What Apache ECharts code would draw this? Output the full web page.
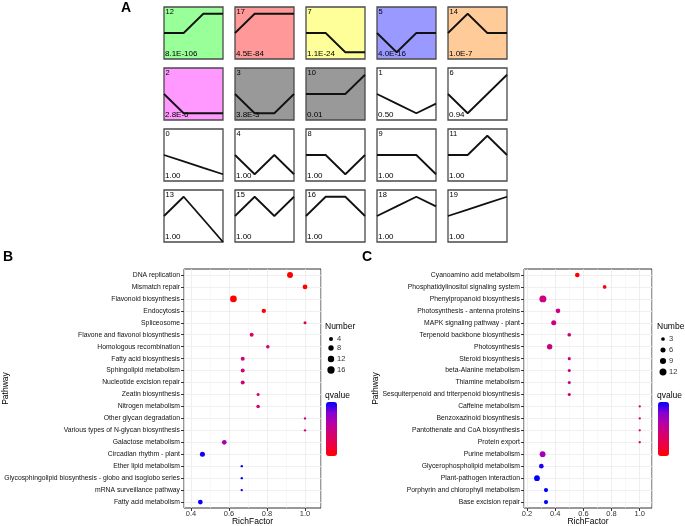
<!DOCTYPE html>
<html><head><meta charset="utf-8">
<script src="https://cdn.jsdelivr.net/npm/echarts@6/dist/echarts.min.js"></script>
<style>html,body{margin:0;padding:0;background:#fff}#c{width:685px;height:526px}</style>
</head><body><div id="c"></div>
<script>
// ---------- Panel A: STEM temporal profiles ----------
const timePoints = [0, 1, 2, 3];
const profileIds = [12, 17, 7, 5, 14, 2, 3, 10, 1, 6, 0, 4, 8, 9, 11, 13, 15, 16, 18, 19];
const profileValues = [
  [0, 0, 1, 1], [0, 1, 1, 1], [0, 0, -1, -1], [0, -1, 0, 0], [0, 1, 0, 0],
  [0, -1, -1, -1], [0, -1, -1, 0], [0, 0, 0, 1], [0, -0.5, -1, -0.5], [0, -1, 0, 1],
  [0, -0.33, -0.67, -1], [0, -1, 0, -1], [0, 0, -1, 0], [0, 0, 0, -1], [0, 0, 1, 0],
  [0, 1, -0.17, -1.35], [0, 1, 0, 1], [0, 1, 1, 0], [0, 0.5, 1, 0.5], [0, 0.33, 0.67, 1]
];
const profilePValues = ['8.1E-106', '4.5E-84', '1.1E-24', '4.0E-16', '1.0E-7',
  '2.8E-6', '3.8E-3', '0.01', '0.50', '0.94',
  '1.00', '1.00', '1.00', '1.00', '1.00',
  '1.00', '1.00', '1.00', '1.00', '1.00'];
const profileColors = ['#99FF99', '#FF9999', '#FFFF99', '#9999FF', '#FFCC99',
  '#FF99FF', '#999999', '#999999', '#FFFFFF', '#FFFFFF',
  '#FFFFFF', '#FFFFFF', '#FFFFFF', '#FFFFFF', '#FFFFFF',
  '#FFFFFF', '#FFFFFF', '#FFFFFF', '#FFFFFF', '#FFFFFF'];

// ---------- Panel B: KEGG enrichment ----------
const bPathways = ['DNA replication', 'Mismatch repair', 'Flavonoid biosynthesis', 'Endocytosis', 'Spliceosome',
  'Flavone and flavonol biosynthesis', 'Homologous recombination', 'Fatty acid biosynthesis', 'Sphingolipid metabolism',
  'Nucleotide excision repair', 'Zeatin biosynthesis', 'Nitrogen metabolism', 'Other glycan degradation',
  'Various types of N-glycan biosynthesis', 'Galactose metabolism', 'Circadian rhythm - plant', 'Ether lipid metabolism',
  'Glycosphingolipid biosynthesis - globo and isoglobo series', 'mRNA surveillance pathway', 'Fatty acid metabolism'];
const bRichFactor = [0.921, 1.0, 0.623, 0.783, 1.0, 0.719, 0.804, 0.672, 0.672, 0.672, 0.753, 0.753, 1.0, 1.0, 0.575, 0.46, 0.667, 0.667, 0.667, 0.449];
const bNumber = [10, 6, 13, 5, 2, 4, 3, 4, 4, 4, 2, 3, 1, 1, 6, 7, 1, 1, 1, 6];
const bQvalue = [0.001, 0.002, 0.001, 0.004, 0.22, 0.26, 0.33, 0.36, 0.36, 0.36, 0.33, 0.33, 0.32, 0.32, 0.52, 0.78, 0.80, 0.80, 0.80, 0.79];
const bNumberBreaks = [4, 8, 12, 16];

// ---------- Panel C: KEGG enrichment ----------
const cPathways = ['Cyanoamino acid metabolism', 'Phosphatidylinositol signaling system', 'Phenylpropanoid biosynthesis',
  'Photosynthesis - antenna proteins', 'MAPK signaling pathway - plant', 'Terpenoid backbone biosynthesis', 'Photosynthesis',
  'Steroid biosynthesis', 'beta-Alanine metabolism', 'Thiamine metabolism', 'Sesquiterpenoid and triterpenoid biosynthesis',
  'Caffeine metabolism', 'Benzoxazinoid biosynthesis', 'Pantothenate and CoA biosynthesis', 'Protein export',
  'Purine metabolism', 'Glycerophospholipid metabolism', 'Plant-pathogen interaction', 'Porphyrin and chlorophyll metabolism',
  'Base excision repair'];
const cRichFactor = [0.557, 0.751, 0.313, 0.42, 0.39, 0.50, 0.361, 0.5, 0.5, 0.5, 0.5, 1.0, 1.0, 1.0, 1.0, 0.311, 0.302, 0.271, 0.335, 0.335];
const cNumber = [5, 3, 12, 5, 6, 3, 7, 2, 2, 2, 2, 1, 1, 1, 1, 8, 5, 8, 4, 4];
const cQvalue = [0.01, 0.03, 0.38, 0.38, 0.38, 0.38, 0.38, 0.36, 0.36, 0.36, 0.36, 0.32, 0.32, 0.32, 0.32, 0.55, 0.76, 0.80, 0.80, 0.80];
const cNumberBreaks = [3, 6, 9, 12];

// ---------- styling / layout ----------
const FONT = 'Liberation Sans, Arial, Helvetica, sans-serif';
const qColors = ['#FF0000', '#EC0043', '#D5006F', '#B800A5', '#8500D2', '#0000FF'];
const bSize = n => 1.65 * Math.sqrt(n) + 0.7;
const cSize = n => 1.905 * Math.sqrt(n) + 0.4;

const A_LEFT = 164, A_TOP = 7, A_DX = 71, A_DY = 61, A_W = 59, A_H = 52;
const P_TOP = 269, P_H = 239;

const grids = [], xAxes = [], yAxes = [], series = [], graphics = [];

profileIds.forEach((id, i) => {
  const col = i % 5, row = Math.floor(i / 5);
  const gx = A_LEFT + col * A_DX, gy = A_TOP + row * A_DY;
  grids.push({ left: gx, top: gy, width: A_W, height: A_H, show: true, outerBoundsMode: 'none',
    backgroundColor: profileColors[i], borderColor: '#4a4a4a', borderWidth: 1.3 });
  xAxes.push({ gridIndex: i, type: 'value', min: 0, max: 3, show: false });
  yAxes.push({ gridIndex: i, type: 'value', min: -1.35, max: 1.35, show: false });
  series.push({ type: 'line', xAxisIndex: i, yAxisIndex: i, silent: true, symbol: 'none',
    data: timePoints.map((t, k) => [t, profileValues[i][k]]),
    lineStyle: { color: '#111', width: 1.8 } });
  graphics.push({ type: 'text', left: gx + 1.5, top: gy + 1,
    style: { text: String(id), font: '7.5px ' + FONT, fill: '#000' } });
  graphics.push({ type: 'text', left: gx + 1, top: gy + A_H - 9,
    style: { text: profilePValues[i], font: '8px ' + FONT, fill: '#000' } });
});

function enrichPanel(gi, left, width, pathways, rich, num, q, sizeFn, xmin, xmax, titleX) {
  grids.push({ left: left, top: P_TOP, width: width, height: P_H, show: true, outerBoundsMode: 'none',
    containLabel: false, backgroundColor: '#fff', borderColor: '#333', borderWidth: 1 });
  xAxes.push({ gridIndex: gi, type: 'value', min: xmin, max: xmax, splitNumber: 4,
    axisLine: { show: false },
    axisTick: { show: true, length: 3, lineStyle: { color: '#333' } },
    axisLabel: { fontSize: 7.5, color: '#333', margin: 2, showMinLabel: false, showMaxLabel: false,
      fontFamily: FONT, formatter: v => v.toFixed(1) },
    splitLine: { show: true, lineStyle: { color: '#EBEBEB', width: 0.8 } },
    minorTick: { show: false, splitNumber: 2 },
    minorSplitLine: { show: true, lineStyle: { color: '#F4F4F4', width: 0.6 } } });
  yAxes.push({ gridIndex: gi, type: 'category', data: pathways, inverse: true,
    axisLine: { show: false },
    axisTick: { show: true, alignWithLabel: true, length: 3, lineStyle: { color: '#333' } },
    axisLabel: { fontSize: 6.8, color: '#111', margin: 4, interval: 0, fontFamily: FONT },
    splitLine: { show: true, alignWithLabel: true, lineStyle: { color: '#EBEBEB', width: 0.8 } } });
  series.push({ type: 'scatter', xAxisIndex: gi, yAxisIndex: gi, symbol: 'circle',
    data: pathways.map((p, k) => [rich[k], p, num[k], q[k]]),
    symbolSize: v => sizeFn(v[2]), itemStyle: { opacity: 1 } });
  graphics.push({ type: 'text', x: left + width / 2, y: 521.5,
    style: { text: 'RichFactor', font: '8.5px ' + FONT, fill: '#000', align: 'center', verticalAlign: 'middle' } });
  graphics.push({ type: 'text', x: titleX, y: P_TOP + P_H / 2, rotation: Math.PI / 2,
    style: { text: 'Pathway', font: '8.5px ' + FONT, fill: '#000', align: 'center', verticalAlign: 'middle' } });
}
enrichPanel(20, 184, 137, bPathways, bRichFactor, bNumber, bQvalue, bSize, 0.363, 1.084, 6);
enrichPanel(21, 524, 128, cPathways, cRichFactor, cNumber, cQvalue, cSize, 0.179, 1.087, 376);

function sizeLegend(x0, breaks, sizeFn, ys) {
  graphics.push({ type: 'text', left: x0 - 2, top: 322,
    style: { text: 'Number', font: '8.5px ' + FONT, fill: '#000' } });
  breaks.forEach((b, k) => {
    graphics.push({ type: 'circle', shape: { cx: x0 + 4, cy: ys[k], r: sizeFn(b) / 2 }, style: { fill: '#000' } });
    graphics.push({ type: 'text', left: x0 + 10, top: ys[k] - 4,
      style: { text: String(b), font: '7.5px ' + FONT, fill: '#333' } });
  });
  graphics.push({ type: 'text', left: x0 - 2, top: 391,
    style: { text: 'qvalue', font: '8.5px ' + FONT, fill: '#000' } });
}
sizeLegend(327, bNumberBreaks, bSize, [339, 348, 359, 370]);
sizeLegend(659, cNumberBreaks, cSize, [339, 350, 361, 372]);

graphics.push({ type: 'text', left: 121, top: 1, style: { text: 'A', font: 'bold 14px ' + FONT, fill: '#000' } });
graphics.push({ type: 'text', left: 3, top: 250, style: { text: 'B', font: 'bold 14px ' + FONT, fill: '#000' } });
graphics.push({ type: 'text', left: 362, top: 250, style: { text: 'C', font: 'bold 14px ' + FONT, fill: '#000' } });

const vm = (si, left, q) => ({ type: 'continuous', seriesIndex: si, dimension: 3,
  min: Math.min(...q), max: Math.max(...q), inRange: { color: qColors },
  left: left, top: 402, itemWidth: 11, itemHeight: 54, calculable: false, hoverLink: false,
  padding: 0, text: null, realtime: false });

const chart = echarts.init(document.getElementById('c'));
chart.setOption({
  animation: false,
  textStyle: { fontFamily: FONT },
  grid: grids, xAxis: xAxes, yAxis: yAxes, series: series,
  visualMap: [vm(20, 326, bQvalue), vm(21, 658, cQvalue)],
  graphic: graphics
});
</script></body></html>
